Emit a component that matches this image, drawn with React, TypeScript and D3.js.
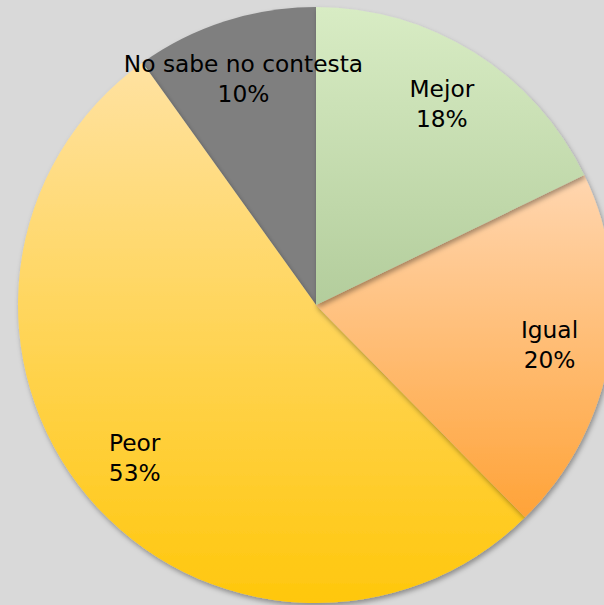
import React from "react";
import * as d3 from "d3";

const categories = ["Mejor", "Igual", "Peor", "No sabe no contesta"];
const values = [18, 20, 53, 10];
const topColors = ["#d8ecc4", "#ffd6b0", "#ffe2a2", "#7f7f7f"];
const bottomColors = ["#b3cd9c", "#ffa338", "#ffc70c", "#7f7f7f"];

const W = 604;
const H = 605;
const cx = 316;
const cy = 305;
const R = 298;
const labelR = 237;

export default function App() {
  const pie = d3.pie<number>().sort(null).value((d) => d)(values);
  const arc = d3.arc<d3.PieArcDatum<number>>().innerRadius(0).outerRadius(R);
  const labelArc = d3.arc<d3.PieArcDatum<number>>().innerRadius(labelR).outerRadius(labelR);
  const order = pie.map((_, i) => i).reverse();
  return (
    <svg width={W} height={H} style={{ position: "fixed", left: 0, top: 0, background: "#d9d9d9" }}>
      <defs>
        {categories.map((c, i) => (
          <linearGradient key={c} id={`g${i}`} x1="0" y1="0" x2="0" y2="1">
            <stop offset="0" stopColor={topColors[i]} />
            <stop offset="1" stopColor={bottomColors[i]} />
          </linearGradient>
        ))}
        <filter id="sh" x="-20%" y="-20%" width="140%" height="140%">
          <feDropShadow dx="1.5" dy="3" stdDeviation="2.5" floodColor="#000" floodOpacity="0.35" />
        </filter>
      </defs>
      <rect width={W} height={H} fill="#d9d9d9" />
      <g transform={`translate(${cx},${cy})`}>
        {order.map((i) => (
          <path key={i} d={arc(pie[i]) || ""} fill={`url(#g${i})`} filter="url(#sh)" />
        ))}
        {pie.map((p, i) => {
          const [x, y] = labelArc.centroid(p);
          return (
            <text
              key={categories[i]}
              x={x}
              y={y - 7}
              textAnchor="middle"
              fontFamily="'DejaVu Sans', sans-serif"
              fontSize={23.3}
              fill="#000"
            >
              <tspan x={x} y={y - 7}>{categories[i]}</tspan>
              <tspan x={x} y={y + 23}>{`${values[i]}%`}</tspan>
            </text>
          );
        })}
      </g>
    </svg>
  );
}
